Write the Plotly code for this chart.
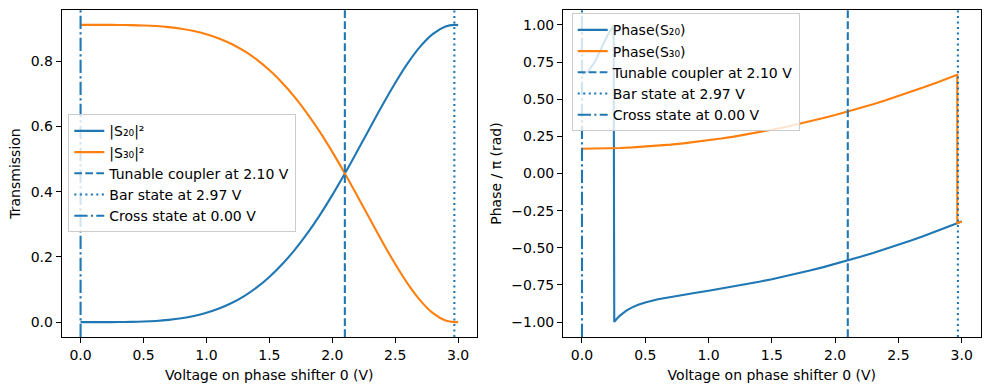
import plotly.graph_objects as go

# ---------------- data ----------------
voltage = [0.0, 0.1, 0.2, 0.3, 0.4, 0.5, 0.6, 0.7, 0.8, 0.9,
           1.0, 1.1, 1.2, 1.3, 1.4, 1.5, 1.6, 1.7, 1.8, 1.9,
           2.0, 2.1, 2.2, 2.3, 2.4, 2.5, 2.6, 2.7, 2.8, 2.9, 2.97, 3.0]
s20_transmission = [0.0000, 0.0000, 0.0000, 0.0002, 0.0007, 0.0018, 0.0037, 0.0069, 0.0118, 0.0188,
                    0.0286, 0.0416, 0.0586, 0.0800, 0.1065, 0.1386, 0.1766, 0.2207, 0.2711, 0.3274,
                    0.3892, 0.4554, 0.5249, 0.5959, 0.6661, 0.7330, 0.7937, 0.8450, 0.8835, 0.9061, 0.9110, 0.9101]
s30_transmission = [0.9110, 0.9110, 0.9110, 0.9108, 0.9103, 0.9092, 0.9073, 0.9041, 0.8992, 0.8922,
                    0.8824, 0.8694, 0.8524, 0.8310, 0.8045, 0.7724, 0.7344, 0.6903, 0.6399, 0.5836,
                    0.5218, 0.4556, 0.3861, 0.3151, 0.2449, 0.1780, 0.1173, 0.0660, 0.0275, 0.0049, 0.0000, 0.0009]

phase_voltage_s20 = [0.0, 0.05, 0.1, 0.15, 0.2, 0.25, 0.255, 0.27, 0.3, 0.35, 0.4, 0.45, 0.5,
                     0.6, 0.7, 0.8, 0.9, 1.0, 1.1, 1.2, 1.3, 1.4, 1.5, 1.6, 1.7, 1.8, 1.9,
                     2.0, 2.1, 2.2, 2.3, 2.4, 2.5, 2.6, 2.7, 2.8, 2.9, 2.97, 3.0]
phase_s20 = [0.6667, 0.6876, 0.7488, 0.8375, 0.9264, 0.9958, -0.9985, -0.9827, -0.9559, -0.9225,
             -0.8988, -0.8811, -0.8674, -0.8465, -0.8302, -0.8159, -0.8023, -0.7887, -0.7746,
             -0.7600, -0.7445, -0.7282, -0.7109, -0.6926, -0.6733, -0.6530, -0.6316, -0.6091,
             -0.5855, -0.5608, -0.5351, -0.5081, -0.4801, -0.4510, -0.4207, -0.3893, -0.3568,
             -0.3333, -0.3231]

phase_voltage_s30 = [0.0, 0.1, 0.2, 0.3, 0.4, 0.5, 0.6, 0.7, 0.8, 0.9,
                     1.0, 1.1, 1.2, 1.3, 1.4, 1.5, 1.6, 1.7, 1.8, 1.9,
                     2.0, 2.1, 2.2, 2.3, 2.4, 2.5, 2.6, 2.7, 2.8, 2.9, 2.965, 2.965, 3.0]
phase_s30 = [0.1667, 0.1672, 0.1689, 0.1718, 0.1757, 0.1808, 0.1871, 0.1944, 0.2029, 0.2126,
             0.2234, 0.2353, 0.2483, 0.2625, 0.2778, 0.2942, 0.3118, 0.3305, 0.3503, 0.3713,
             0.3934, 0.4166, 0.4410, 0.4665, 0.4932, 0.5209, 0.5498, 0.5799, 0.6111, 0.6434,
             0.6650, -0.3350, -0.3232]

coupler_voltage = 2.10
bar_voltage = 2.97
cross_voltage = 0.00

x_ticks = [0.0, 0.5, 1.0, 1.5, 2.0, 2.5, 3.0]
transmission_ticks = [0.0, 0.2, 0.4, 0.6, 0.8]
phase_ticks = [-1.0, -0.75, -0.5, -0.25, 0.0, 0.25, 0.5, 0.75, 1.0]

# ---------------- style ----------------
BLUE = "#1f77b4"
ORANGE = "#ff7f0e"
FONT = "DejaVu Sans"
FS = 14.0
LW = 2.1
W, H = 989, 390

DASH = "7.7px,3.3px"
DOT = "2.1px,3.4px"
DASHDOT = "13.3px,3.3px,2.1px,3.3px"

fig = go.Figure()

# left panel
fig.add_trace(go.Scatter(x=voltage, y=s20_transmission, mode="lines", name="|S₂₀|²",
                         line=dict(color=BLUE, width=LW, shape="spline"),
                         xaxis="x", yaxis="y", legend="legend", legendgroup="a1"))
fig.add_trace(go.Scatter(x=voltage, y=s30_transmission, mode="lines", name="|S₃₀|²",
                         line=dict(color=ORANGE, width=LW, shape="spline"),
                         xaxis="x", yaxis="y", legend="legend", legendgroup="a2"))
# right panel
fig.add_trace(go.Scatter(x=phase_voltage_s20, y=phase_s20, mode="lines", name="Phase(S₂₀)",
                         line=dict(color=BLUE, width=LW),
                         xaxis="x2", yaxis="y2", legend="legend2", legendgroup="b1"))
fig.add_trace(go.Scatter(x=phase_voltage_s30, y=phase_s30, mode="lines", name="Phase(S₃₀)",
                         line=dict(color=ORANGE, width=LW),
                         xaxis="x2", yaxis="y2", legend="legend2", legendgroup="b2"))

markers = [
    (coupler_voltage, f"Tunable coupler at {coupler_voltage:.2f} V", DASH),
    (bar_voltage, f"Bar state at {bar_voltage:.2f} V", DOT),
    (cross_voltage, f"Cross state at {cross_voltage:.2f} V", DASHDOT),
]

for panel, (xa, ya, lg) in enumerate([("x", "y", "legend"), ("x2", "y2", "legend2")]):
    for i, (v, label, dash) in enumerate(markers):
        fig.add_shape(type="line", xref=xa, yref=f"{ya} domain", x0=v, x1=v, y0=0, y1=1,
                      line=dict(color=BLUE, width=LW, dash=dash), layer="above")
        fig.add_trace(go.Scatter(x=[None], y=[None], mode="lines", name=label,
                                 line=dict(color=BLUE, width=LW, dash=dash),
                                 xaxis=xa, yaxis=ya, legend=lg,
                                 legendgroup=f"m{panel}{i}"))

axis_common = dict(showline=True, linecolor="black", linewidth=1.1, mirror=True,
                   ticks="outside", ticklen=4.9, tickwidth=1.1, tickcolor="black",
                   showgrid=False, zeroline=False, automargin=False,
                   tickfont=dict(family=FONT, size=FS, color="black"))

y_top = 1 - 10 / H
y_bot = 1 - 337 / H

fig.update_layout(
    width=W, height=H,
    margin=dict(l=0, r=0, t=0, b=0),
    paper_bgcolor="white", plot_bgcolor="white",
    font=dict(family=FONT, size=FS, color="black"),
    xaxis=dict(domain=[61.7 / W, 477 / W], range=[-0.15, 3.15], tickvals=x_ticks,
               tickformat=".1f", anchor="y",
               title=dict(text="Voltage on phase shifter 0 (V)", standoff=8,
                          font=dict(family=FONT, size=FS, color="black")),
               **axis_common),
    yaxis=dict(domain=[y_bot, y_top], range=[-0.04555, 0.95655], tickvals=transmission_ticks,
               tickformat=".1f", anchor="x",
               title=dict(text="Transmission", standoff=6,
                          font=dict(family=FONT, size=FS, color="black")),
               **axis_common),
    xaxis2=dict(domain=[563 / W, 980.7 / W], range=[-0.15, 3.15], tickvals=x_ticks,
                tickformat=".1f", anchor="y2",
                title=dict(text="Voltage on phase shifter 0 (V)", standoff=8,
                           font=dict(family=FONT, size=FS, color="black")),
                **axis_common),
    yaxis2=dict(domain=[y_bot, y_top], range=[-1.1, 1.1], tickvals=phase_ticks,
                tickformat=".2f", anchor="x2",
                title=dict(text="Phase / π (rad)", standoff=6,
                           font=dict(family=FONT, size=FS, color="black")),
                **axis_common),
    legend=dict(x=68.3 / W, y=1 - 114.3 / H, xanchor="left", yanchor="top",
                bgcolor="rgba(255,255,255,0.8)", bordercolor="#cccccc", borderwidth=1,
                font=dict(family=FONT, size=FS, color="black"), itemwidth=30,
                traceorder="normal", tracegroupgap=3),
    legend2=dict(x=571.7 / W, y=1 - 13.3 / H, xanchor="left", yanchor="top",
                 bgcolor="rgba(255,255,255,0.8)", bordercolor="#cccccc", borderwidth=1,
                 font=dict(family=FONT, size=FS, color="black"), itemwidth=30,
                 traceorder="normal", tracegroupgap=3),
    showlegend=True,
)

fig.write_html("out.html", config={"displayModeBar": False},
               post_script="document.body.style.margin='0px';")
